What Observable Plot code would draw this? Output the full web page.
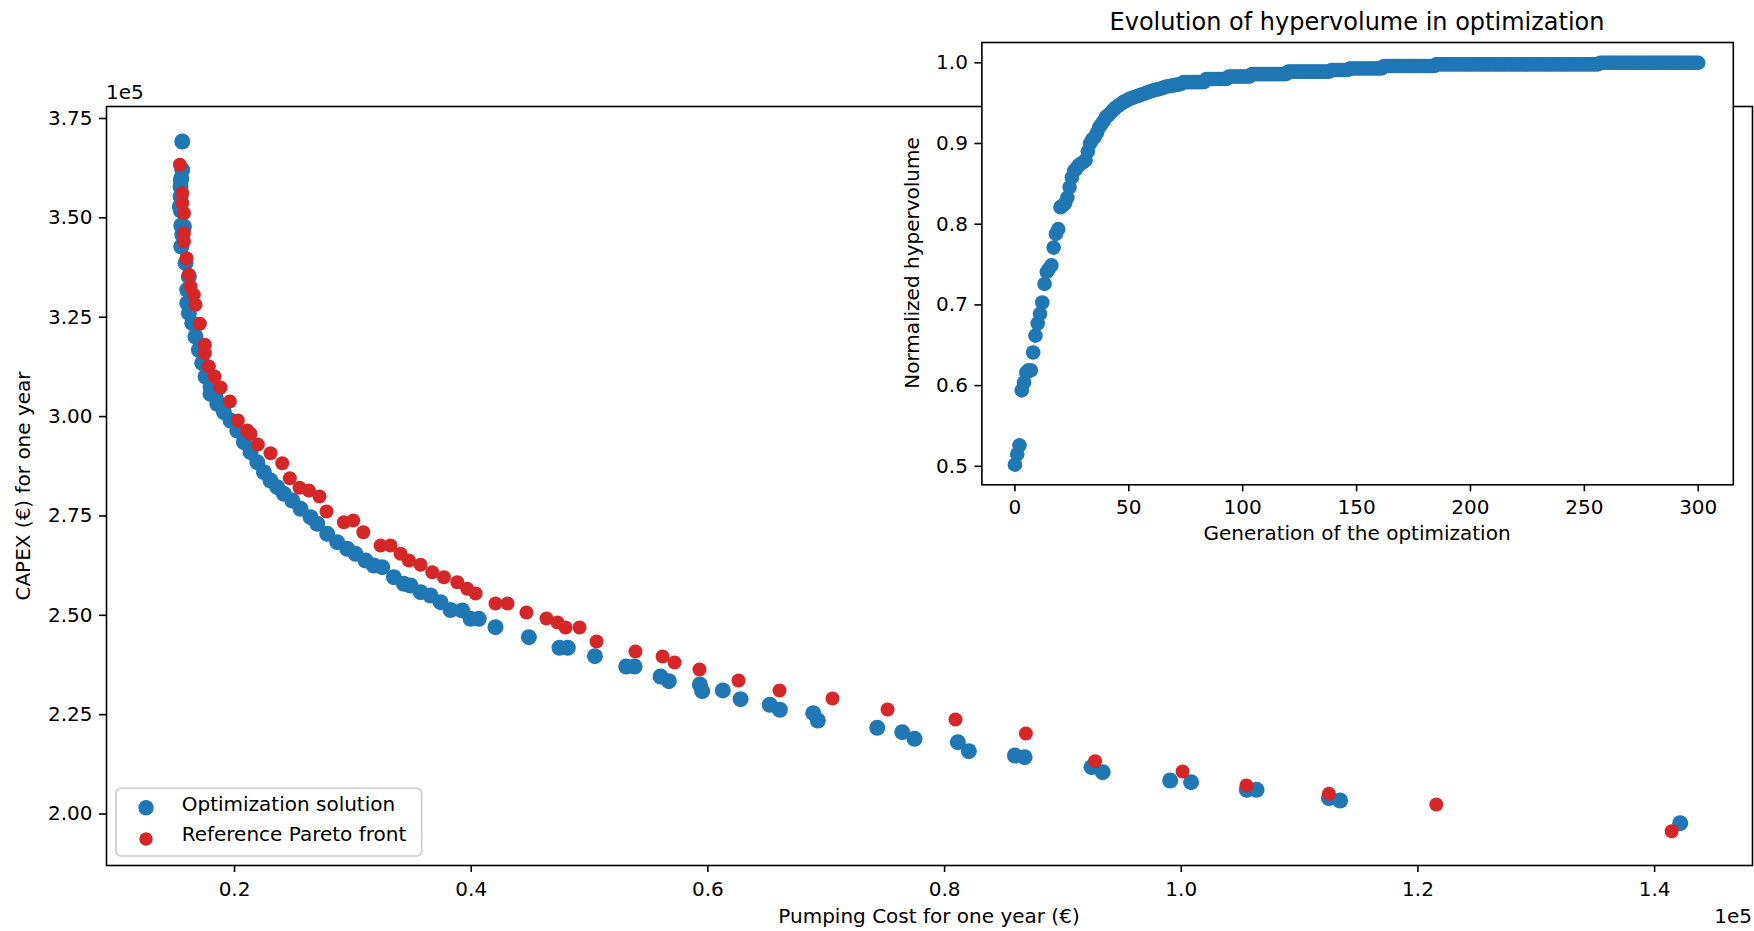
<!DOCTYPE html>
<html><head><meta charset="utf-8">
<script src="https://cdn.jsdelivr.net/npm/d3@7"></script>
<script src="https://cdn.jsdelivr.net/npm/@observablehq/plot@0.6"></script>
<style>
html,body{margin:0;padding:0;background:#fff;overflow:hidden;}
#wrap{position:relative;width:1754px;height:931px;}
#wrap svg{position:absolute;}
</style></head><body><div id="wrap"></div>
<script>
// ---- Main chart data (€) ----
const blueCost = [15580,15580,15500,15440,15440,15380,15460,15460,15500,15720,15580,15500,15860,16140,16000,16000,16140,16430,16700,16980,17270,17550,17970,17970,18390,18540,18820,19100,19660,20230,20790,21350,21920,22480,23040,23610,24170,24880,25580,26420,26990,27830,28680,29520,30220,31070,31770,32480,33460,34310,34870,35720,36560,37410,38250,39240,39940,40640,42050,44870,47460,48160,50450,53100,53800,56000,56700,59320,59520,61260,62760,65230,66080,68900,69290,74310,76420,77460,81120,82050,85940,86760,92420,93360,99060,100830,105540,106360,112480,113420,142160];
const blueCapex = [369210,362090,359980,357890,355380,352860,359400,351850,348080,347830,345740,342800,338590,335250,331900,328530,326010,323500,320150,316800,313430,310090,307570,305730,305050,303220,302970,301100,299020,296500,293560,291040,288530,286010,283920,282240,280570,278890,276800,274690,273030,270510,268400,266740,265480,263790,262530,262110,259590,257930,257500,255820,254990,253300,251340,251210,249120,249120,247010,244490,241830,241830,239710,237120,237120,234610,233420,232590,230910,231090,228900,227490,226230,225370,223540,221700,220590,218930,218080,215810,214730,214300,211790,210530,208440,208010,206100,206100,203990,203410,197700];
const redCost = [15380,15580,15580,15720,15720,15720,15940,16140,16280,16560,16700,17070,17490,17490,17830,18310,18820,19600,20280,21070,21350,21970,23040,24030,24670,25490,26280,27180,27770,29240,30030,30880,32340,33180,34030,34730,35720,36710,37690,38820,39660,40370,42050,43070,44670,46360,47290,47970,49150,50590,53880,56170,57180,59290,62590,66050,70530,75180,80920,86870,92720,100110,105510,112480,121550,141440];
const redCapex = [363350,356200,353700,351170,346140,344050,339850,335680,332730,330640,328130,323350,318060,315950,312600,310090,307320,303800,299020,296500,295670,292980,290790,288270,284500,282080,281400,279900,276120,273430,273860,270910,267570,267570,265480,263790,262710,260850,259590,258330,256670,255490,252970,252970,250710,249200,248190,246940,246940,243410,240900,239640,238130,236370,233600,231090,229070,226300,223790,220280,213300,210710,207180,205090,202400,195670];
const costTicks = [20000,40000,60000,80000,100000,120000,140000];
const capexTicks = [200000,225000,250000,275000,300000,325000,350000,375000];

// ---- Inset data ----
const hypervolume = [
0.502,0.515,0.526,0.594,0.604,0.616,0.619,0.619,0.641,0.662,
0.677,0.689,0.703,0.726,0.741,0.745,0.749,0.771,0.788,0.794,
0.821,0.823,0.826,0.833,0.846,0.858,0.866,0.869,0.873,0.875,
0.877,0.879,0.890,0.900,0.905,0.908,0.913,0.920,0.924,0.928,
0.933,0.935,0.938,0.941,0.944,0.946,0.948,0.950,0.952,0.953,
0.955,0.956,0.957,0.958,0.959,0.960,0.961,0.962,0.963,0.964,
0.965,0.966,0.967,0.967,0.968,0.969,0.970,0.971,0.971,0.972,
0.972,0.973,0.973,0.974,0.976,0.976,0.976,0.976,0.976,0.976,
0.976,0.976,0.976,0.976,0.980,0.980,0.980,0.980,0.980,0.980,
0.980,0.980,0.980,0.980,0.983,0.983,0.983,0.983,0.983,0.983,
0.983,0.983,0.983,0.983,0.986,0.986,0.986,0.986,0.986,0.986,
0.986,0.986,0.986,0.986,0.986,0.986,0.986,0.986,0.986,0.986,
0.989,0.989,0.989,0.989,0.989,0.989,0.989,0.989,0.989,0.989,
0.989,0.989,0.989,0.989,0.989,0.989,0.989,0.989,0.989,0.991,
0.991,0.991,0.991,0.991,0.991,0.991,0.991,0.993,0.993,0.993,
0.993,0.993,0.993,0.993,0.993,0.993,0.993,0.993,0.993,0.993,
0.993,0.993,0.996,0.996,0.996,0.996,0.996,0.996,0.996,0.996,
0.996,0.996,0.996,0.996,0.996,0.996,0.996,0.996,0.996,0.996,
0.996,0.996,0.996,0.996,0.996,0.998,0.998,0.998,0.998,0.998,
0.998,0.998,0.998,0.998,0.998,0.998,0.998,0.998,0.998,0.998,
0.998,0.998,0.998,0.998,0.998,0.998,0.998,0.998,0.998,0.998,
0.998,0.998,0.998,0.998,0.998,0.998,0.998,0.998,0.998,0.998,
0.998,0.998,0.998,0.998,0.998,0.998,0.998,0.998,0.998,0.998,
0.998,0.998,0.998,0.998,0.998,0.998,0.998,0.998,0.998,0.998,
0.998,0.998,0.998,0.998,0.998,0.998,0.998,0.998,0.998,0.998,
0.998,0.998,0.998,0.998,0.998,0.998,0.998,1.000,1.000,1.000,
1.000,1.000,1.000,1.000,1.000,1.000,1.000,1.000,1.000,1.000,
1.000,1.000,1.000,1.000,1.000,1.000,1.000,1.000,1.000,1.000,
1.000,1.000,1.000,1.000,1.000,1.000,1.000,1.000,1.000,1.000,
1.000,1.000,1.000,1.000,1.000,1.000,1.000,1.000,1.000,1.000,
1.000];
const generation = hypervolume.map((_, i) => i);
const genTicks = [0,50,100,150,200,250,300];
const hvTicks = [0.5,0.6,0.7,0.8,0.9,1.0];

const BLUE = "#1f77b4", RED = "#d62728";
const FONT = "DejaVu Sans";

const blue = blueCost.map((x, i) => ({x, y: blueCapex[i]}));
const red = redCost.map((x, i) => ({x, y: redCapex[i]}));
const hv = generation.map((g, i) => ({g, h: hypervolume[i]}));

const baseStyle = {fontFamily: FONT, fontSize: "20px", color: "#000", background: "transparent", overflow: "visible"};

const main = Plot.plot({
  width: 1754, height: 931,
  marginLeft: 106, marginRight: 2, marginTop: 106, marginBottom: 66,
  style: baseStyle,
  x: {domain: [9180, 148270]},
  y: {domain: [187050, 378020]},
  marks: [
    Plot.frame({stroke: "#000", strokeWidth: 1.6}),
    Plot.axisX({ticks: costTicks, tickFormat: d => (d / 1e5).toFixed(1), tickSize: 7, tickPadding: 9, label: null, fontSize: 20, strokeWidth: 1.6}),
    Plot.axisY({ticks: capexTicks, tickFormat: d => (d / 1e5).toFixed(2), tickSize: 7, tickPadding: 7, label: null, fontSize: 20, strokeWidth: 1.6}),
    Plot.dot(blue, {x: "x", y: "y", r: 8, fill: BLUE}),
    Plot.dot(red, {x: "x", y: "y", r: 7, fill: RED})
  ]
});
main.style.left = "0px"; main.style.top = "0px";

const inset = Plot.plot({
  width: 854, height: 550,
  marginLeft: 81.4, marginRight: 21.2, marginTop: 42, marginBottom: 65.7,
  style: baseStyle,
  x: {domain: [-14.5, 315.4]},
  y: {domain: [0.4771, 1.02515]},
  marks: [
    Plot.frame({fill: "white", stroke: "#000", strokeWidth: 1.6}),
    Plot.axisX({ticks: genTicks, tickFormat: d => String(d), tickSize: 7, tickPadding: 8, label: null, fontSize: 20, strokeWidth: 1.6}),
    Plot.axisY({ticks: hvTicks, tickFormat: d => d.toFixed(1), tickSize: 7, tickPadding: 7, label: null, fontSize: 20, strokeWidth: 1.6}),
    Plot.dot(hv, {x: "g", y: "h", r: 7.3, fill: BLUE})
  ]
});
inset.style.left = "900px"; inset.style.top = "0px";

const wrap = document.getElementById("wrap");
wrap.appendChild(main);
wrap.appendChild(inset);

// ---- Text, labels and legend overlay ----
const NS = "http://www.w3.org/2000/svg";
const ov = document.createElementNS(NS, "svg");
ov.setAttribute("width", 1754); ov.setAttribute("height", 931);
ov.style.left = "0px"; ov.style.top = "0px";
ov.setAttribute("font-family", FONT);
function txt(s, x, y, size, anchor, rot) {
  const t = document.createElementNS(NS, "text");
  t.textContent = s;
  t.setAttribute("font-size", size);
  t.setAttribute("text-anchor", anchor);
  t.setAttribute("fill", "#000");
  if (rot) t.setAttribute("transform", `translate(${x},${y}) rotate(-90)`);
  else { t.setAttribute("x", x); t.setAttribute("y", y); }
  ov.appendChild(t);
}
txt("Evolution of hypervolume in optimization", 1357, 29.5, 24, "middle");
txt("Normalized hypervolume", 919, 263, 20, "middle", true);
txt("Generation of the optimization", 1357, 540, 20, "middle");
txt("Pumping Cost for one year (€)", 929, 923, 20, "middle");
txt("CAPEX (€) for one year", 30, 486, 20, "middle", true);
txt("1e5", 106, 98.5, 20, "start");
txt("1e5", 1752, 923, 20, "end");

// legend
const lg = document.createElementNS(NS, "rect");
lg.setAttribute("x", 116); lg.setAttribute("y", 788.3);
lg.setAttribute("width", 305.7); lg.setAttribute("height", 67.7);
lg.setAttribute("rx", 5); lg.setAttribute("fill", "white"); lg.setAttribute("fill-opacity", 0.8);
lg.setAttribute("stroke", "#cccccc"); lg.setAttribute("stroke-width", 1.6);
ov.appendChild(lg);
[[BLUE, 807.7, 7.7], [RED, 839, 6.7]].forEach(([c, cy, r]) => {
  const ci = document.createElementNS(NS, "circle");
  ci.setAttribute("cx", 146); ci.setAttribute("cy", cy); ci.setAttribute("r", r); ci.setAttribute("fill", c);
  ov.appendChild(ci);
});
txt("Optimization solution", 181.7, 810.5, 20, "start");
txt("Reference Pareto front", 181.7, 841.3, 20, "start");
wrap.appendChild(ov);
</script>
</body></html>
